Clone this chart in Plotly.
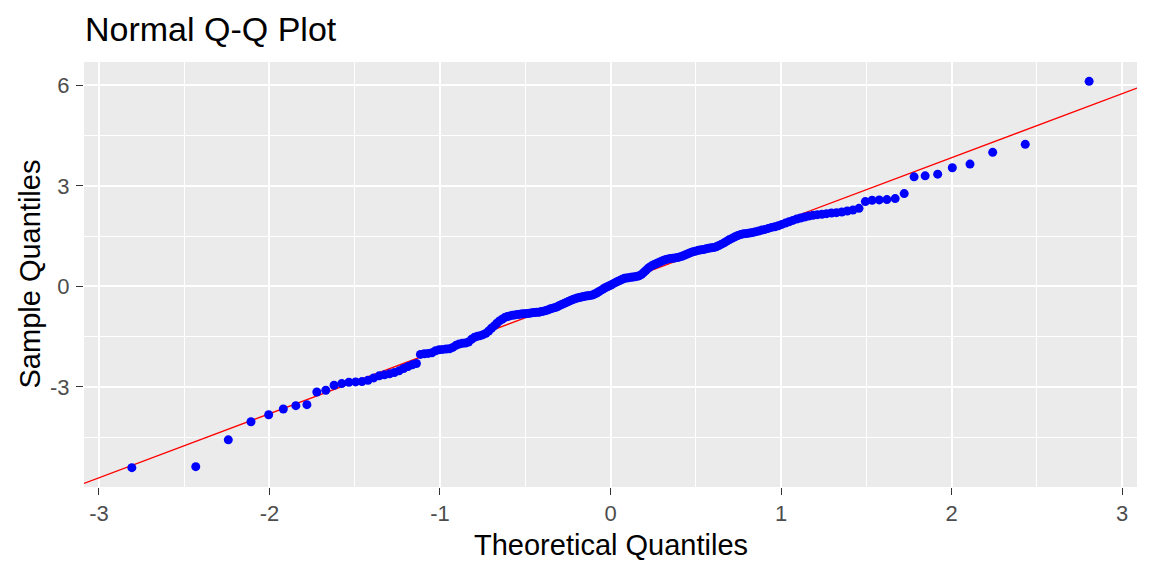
import plotly.graph_objects as go
from statistics import NormalDist

# sorted sample values (n = 200)
sample_quantiles = [
    -5.41, -5.38, -4.58, -4.04, -3.83, -3.66, -3.56, -3.53, -3.15, -3.10,
    -2.95, -2.90, -2.86, -2.85, -2.84, -2.80, -2.73, -2.67, -2.64, -2.61,
    -2.57, -2.52, -2.45, -2.39, -2.34, -2.30, -2.03, -2.01, -2.00, -1.98,
    -1.92, -1.89, -1.88, -1.87, -1.86, -1.82, -1.76, -1.72, -1.70, -1.69,
    -1.66, -1.58, -1.52, -1.49, -1.47, -1.44, -1.40, -1.33, -1.25, -1.18,
    -1.10, -1.03, -0.98, -0.93, -0.90, -0.88, -0.86, -0.85, -0.84, -0.83,
    -0.82, -0.82, -0.81, -0.80, -0.79, -0.78, -0.77, -0.77, -0.75, -0.74,
    -0.72, -0.70, -0.67, -0.65, -0.63, -0.61, -0.57, -0.54, -0.51, -0.48,
    -0.45, -0.42, -0.39, -0.37, -0.35, -0.33, -0.32, -0.30, -0.29, -0.28,
    -0.27, -0.26, -0.23, -0.20, -0.16, -0.12, -0.08, -0.04, -0.01, 0.02,
    0.05, 0.09, 0.12, 0.15, 0.18, 0.21, 0.24, 0.25, 0.26, 0.27,
    0.28, 0.29, 0.30, 0.32, 0.36, 0.42, 0.48, 0.54, 0.59, 0.63,
    0.66, 0.69, 0.72, 0.75, 0.78, 0.80, 0.82, 0.83, 0.84, 0.85,
    0.86, 0.88, 0.90, 0.93, 0.96, 0.99, 1.02, 1.04, 1.06, 1.08,
    1.09, 1.10, 1.12, 1.14, 1.15, 1.16, 1.18, 1.22, 1.26, 1.30,
    1.35, 1.40, 1.44, 1.48, 1.52, 1.55, 1.57, 1.58, 1.59, 1.61,
    1.63, 1.65, 1.68, 1.70, 1.73, 1.76, 1.78, 1.81, 1.85, 1.89,
    1.93, 1.97, 2.01, 2.04, 2.07, 2.10, 2.12, 2.14, 2.15, 2.17,
    2.19, 2.20, 2.22, 2.25, 2.28, 2.33, 2.53, 2.57, 2.58, 2.59,
    2.62, 2.77, 3.27, 3.30, 3.35, 3.54, 3.65, 4.00, 4.24, 6.12,
]

# reference line
line_intercept = 0.02
line_slope = 1.91

x_ticks = [-3, -2, -1, 0, 1, 2, 3]
x_ticktext = ["-3", "-2", "-1", "0", "1", "2", "3"]
y_ticks = [-3, 0, 3, 6]
y_ticktext = ["-3", "0", "3", "6"]

n = len(sample_quantiles)
theoretical = [NormalDist().inv_cdf((i + 0.5) / n) for i in range(n)]


def expand(vals, mult=0.05):
    lo, hi = min(vals), max(vals)
    pad = (hi - lo) * mult
    return [lo - pad, hi + pad]


x_range = expand(theoretical)
y_range = expand(sample_quantiles)

FONT = "Liberation Sans, Arial, sans-serif"

fig = go.Figure()

fig.add_trace(go.Scatter(
    x=x_range,
    y=[line_intercept + line_slope * v for v in x_range],
    mode="lines", line=dict(color="#FF0000", width=1.3),
    hoverinfo="skip", showlegend=False,
))

fig.add_trace(go.Scatter(
    x=theoretical, y=sample_quantiles, mode="markers",
    marker=dict(color="#0000FF", size=9, line=dict(width=0)),
    showlegend=False,
))

axis_common = dict(
    showgrid=True, gridcolor="white", gridwidth=1.6,
    zeroline=False, showline=False,
    ticks="outside", ticklen=7, tickwidth=1.3, tickcolor="#333333",
    tickfont=dict(family=FONT, size=22, color="#4D4D4D"),
    minor=dict(showgrid=True, gridcolor="white", gridwidth=0.8),
)

fig.update_xaxes(range=x_range, tickvals=x_ticks, ticktext=x_ticktext,
                 minor_dtick=0.5, minor_tick0=0, **axis_common)
fig.update_yaxes(range=y_range, tickvals=y_ticks, ticktext=y_ticktext,
                 minor_dtick=1.5, minor_tick0=0, ticklabelstandoff=2,
                 **axis_common)

# page body adds an 8px offset, margins account for it
fig.update_layout(
    width=1152, height=576,
    margin=dict(l=76, r=23, t=54, b=97),
    paper_bgcolor="white", plot_bgcolor="#EBEBEB",
    font=dict(family=FONT, color="black"),
    title=dict(text="Normal Q-Q Plot", x=77 / 1152, xref="container", xanchor="left",
               y=1 - 21.5 / 576, yref="container", yanchor="middle",
               font=dict(family=FONT, size=34, color="black")),
    annotations=[
        dict(text="Theoretical Quantiles", xref="paper", yref="paper",
             x=0.5, y=-(545 - 487) / 425, xanchor="center", yanchor="middle",
             showarrow=False, font=dict(family=FONT, size=29, color="black")),
        dict(text="Sample Quantiles", xref="paper", yref="paper",
             x=(29 - 84) / 1053, y=0.5, xanchor="center", yanchor="middle",
             textangle=-90, showarrow=False,
             font=dict(family=FONT, size=29, color="black")),
    ],
)

fig.write_html("out.html")
